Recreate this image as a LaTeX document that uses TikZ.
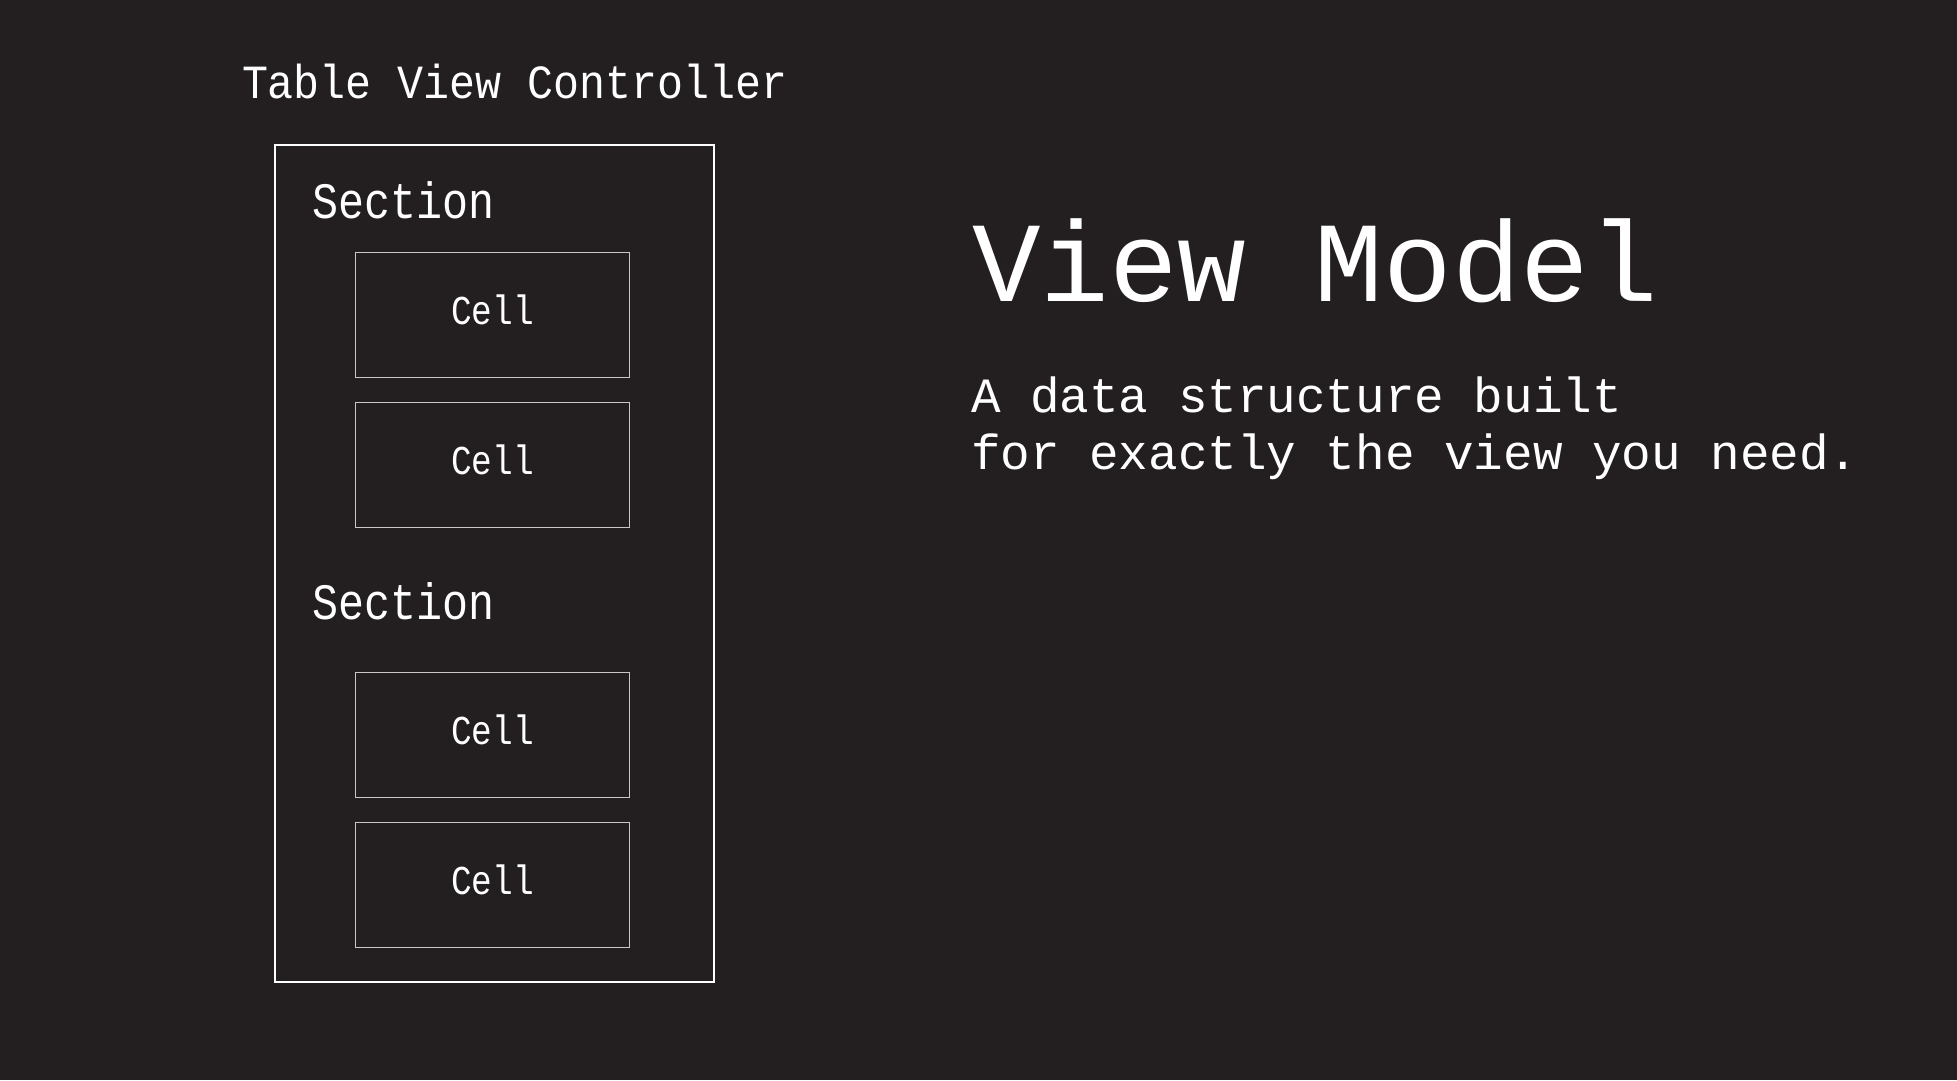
\documentclass[tikz,border=0pt]{standalone}
\usepackage{fontspec}
\setmainfont{Liberation Mono}
\newfontfamily\fTable[FakeStretch=0.91]{Liberation Mono}
\newfontfamily\fSection[FakeStretch=0.85]{Liberation Mono}
\newfontfamily\fCell[FakeStretch=0.84]{Liberation Mono}
\newfontfamily\fTitle{Liberation Mono}
\newfontfamily\fSub{Liberation Mono}
\definecolor{bg}{RGB}{35,31,32}
\definecolor{cellline}{RGB}{200,200,200}
\tikzset{
  txt/.style={text=white, inner sep=0pt, outer sep=0pt, anchor=base west},
  outerbox/.style={draw=white, line width=2pt},
  cellbox/.style={draw=cellline, line width=1.1pt, minimum width=274pt, minimum height=125pt, inner sep=0pt, text height=30pt, text depth=10pt, text=white, font=\fCell\fontsize{41}{48}\selectfont},
}
\begin{document}
\begin{tikzpicture}[x=1pt,y=-1pt]
\fill[bg] (0,0) rectangle (1957,1080);
\useasboundingbox (0,0) rectangle (1957,1080);
\node[txt, font=\fTable\fontsize{47.6}{55}\selectfont] (tvc) at (242,98) {Table View Controller};
\draw[outerbox] (274.5,144.5) rectangle (713.5,982) coordinate (obr);
\coordinate (otl) at (274.5,144.5);
\node[txt, font=\fSection\fontsize{51}{58}\selectfont] (sec1) at (312,218) {Section};
\node[txt, font=\fSection\fontsize{51}{58}\selectfont] (sec2) at (312,619) {Section};
\node[cellbox] (c1) at (492.5,314.8) {Cell};
\node[cellbox] (c2) at (492.5,464.8) {Cell};
\node[cellbox] (c3) at (492.5,734.8) {Cell};
\node[cellbox] (c4) at (492.5,884.8) {Cell};
\node[txt, font=\fTitle\fontsize{114.3}{130}\selectfont] (title) at (972,301.5) {View Model};
\node[txt, font=\fSub\fontsize{49.3}{57}\selectfont] (sub1) at (971,412.5) {A data structure built};
\node[txt, font=\fSub\fontsize{49.3}{57}\selectfont] (sub2) at (971,469.5) {for exactly the view you need.};
\end{tikzpicture}
\end{document}
